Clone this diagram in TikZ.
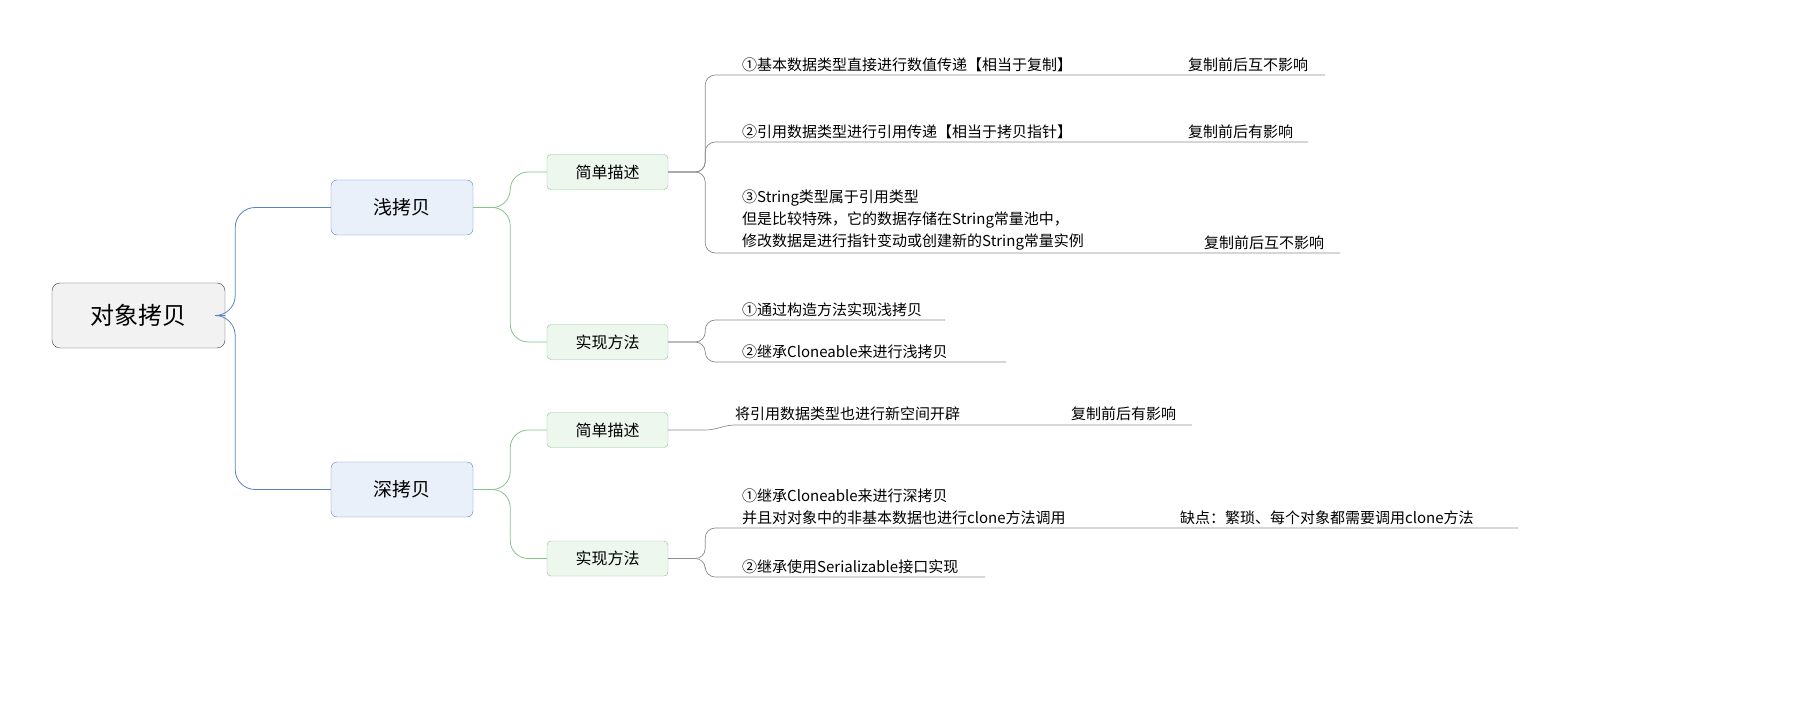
\documentclass[tikz,border=0pt]{standalone}
\usepackage{fontspec}
\setmainfont{Noto Sans CJK SC}
\usetikzlibrary{positioning}
\definecolor{rootgray}{HTML}{F2F2F2}
\definecolor{bluefill}{HTML}{EAF0FA}
\definecolor{blueline}{HTML}{5B82C0}
\definecolor{greenfill}{HTML}{EDF7EE}
\definecolor{greenline}{HTML}{86C48C}
\definecolor{leafline}{HTML}{8C8C8C}
\tikzset{
  % root topic
  root/.style={draw=black!75, fill=rootgray, rounded corners=8pt, minimum width=173pt, minimum height=65pt, font=\fontsize{24}{28}\selectfont},
  % main topics
  topic/.style={draw=blueline, fill=bluefill, rounded corners=6pt, minimum width=142pt, minimum height=55pt, font=\fontsize{19}{22}\selectfont},
  % sub topics
  sub/.style={draw=greenline, fill=greenfill, rounded corners=4pt, minimum width=121pt, minimum height=35pt, font=\fontsize{16}{19}\selectfont},
  % leaf text
  leaf/.style={anchor=south west, inner sep=0pt, align=left, font=\fontsize{15}{22}\selectfont},
  branch/.style={blueline, rounded corners=20pt, line width=0.8pt},
  twig/.style={greenline, rounded corners=18pt, line width=0.8pt},
  under/.style={leafline, rounded corners=10pt, line width=0.7pt},
}
\begin{document}
\begin{tikzpicture}[x=1pt, y=-1pt]
  \node[root] (obj) at (138.5,315.5) {对象拷贝};
  \node[topic] (shallow) at (402,207.5) {浅拷贝};
  \node[topic] (deep) at (402,489.5) {深拷贝};
  \node[sub] (sdesc) at (607.5,172) {简单描述};
  \node[sub] (simpl) at (607.5,342) {实现方法};
  \node[sub] (ddesc) at (607.5,430) {简单描述};
  \node[sub] (dimpl) at (607.5,558.5) {实现方法};

  % leaves
  \node[leaf] (s1) at (742,72) {①基本数据类型直接进行数值传递【相当于复制】};
  \node[leaf] (s1r) at (1188,72) {复制前后互不影响};
  \node[leaf] (s2) at (742,139) {②引用数据类型进行引用传递【相当于拷贝指针】};
  \node[leaf] (s2r) at (1188,139) {复制前后有影响};
  \node[leaf] (s3) at (742,250) {③String类型属于引用类型\\但是比较特殊，它的数据存储在String常量池中，\\修改数据是进行指针变动或创建新的String常量实例};
  \node[leaf] (s3r) at (1204,250) {复制前后互不影响};
  \node[leaf] (i1) at (742,317) {①通过构造方法实现浅拷贝};
  \node[leaf] (i2) at (742,359) {②继承Cloneable来进行浅拷贝};
  \node[leaf] (d1) at (735,421) {将引用数据类型也进行新空间开辟};
  \node[leaf] (d1r) at (1071,421) {复制前后有影响};
  \node[leaf] (j1) at (742,525) {①继承Cloneable来进行深拷贝\\并且对对象中的非基本数据也进行clone方法调用};
  \node[leaf] (j1r) at (1180,525) {缺点：繁琐、每个对象都需要调用clone方法};
  \node[leaf] (j2) at (742,574) {②继承使用Serializable接口实现};

  \coordinate (e1) at (1325,75);
  \coordinate (e2) at (1308,142);
  \coordinate (e3) at (1340,253);
  \coordinate (e4) at (945,320);
  \coordinate (e5) at (1006,362);
  \coordinate (e6) at (1192,425);
  \coordinate (e7) at (1518,528);
  \coordinate (e8) at (985,577);

  \draw[branch] (obj.east) -- ++(10,0) |- (shallow.west);
  \draw[branch] (obj.east) -- ++(10,0) |- (deep.west);
  \draw[twig] (shallow.east) -- ++(37,0) |- (sdesc.west);
  \draw[twig] (shallow.east) -- ++(37,0) |- (simpl.west);
  \draw[twig] (deep.east) -- ++(37,0) |- (ddesc.west);
  \draw[twig] (deep.east) -- ++(37,0) |- (dimpl.west);

  \draw[under] (sdesc.east) -- ++(37,0) |- (e1);
  \draw[under] (sdesc.east) -- ++(37,0) |- (e2);
  \draw[under] (sdesc.east) -- ++(37,0) |- (e3);
  \draw[under] (simpl.east) -- ++(37,0) |- (e4);
  \draw[under] (simpl.east) -- ++(37,0) |- (e5);
  \draw[under, sharp corners] (ddesc.east) -- ++(37,0) to[out=0, in=180] ++(30,-5) -- (e6);
  \draw[under] (dimpl.east) -- ++(37,0) |- (e7);
  \draw[under] (dimpl.east) -- ++(37,0) |- (e8);

  \pgfresetboundingbox
  \path (0,0) rectangle (1807,727);
\end{tikzpicture}
\end{document}
